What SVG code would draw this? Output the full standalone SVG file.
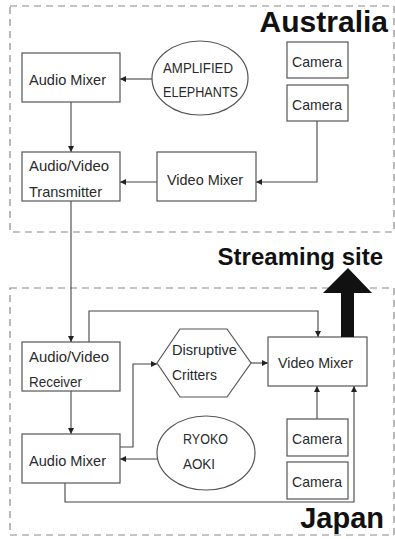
<svg xmlns="http://www.w3.org/2000/svg" width="395" height="539" viewBox="0 0 395 539">
  <style>
    .region { fill: none; stroke: #8a8a8a; stroke-width: 1.2; stroke-dasharray: 7 5; }
    .node { fill: #ffffff; stroke: #555555; stroke-width: 1.2; }
    .lbl { font-family: "Liberation Sans", Arial, sans-serif; font-size: 15px; fill: #2a2a2a; }
    .title { font-family: "Liberation Sans", Arial, sans-serif; font-weight: bold; fill: #111111; }
    .wire { fill: none; stroke: #444444; stroke-width: 1.1; }
  </style>
  <defs>
    <marker id="tip" viewBox="0 0 10 10" refX="10" refY="5" markerWidth="6" markerHeight="6" orient="auto" markerUnits="userSpaceOnUse">
      <path d="M0,0 L10,5 L0,10 Z" fill="#222222"/>
    </marker>
  </defs>

  <rect fill="#ffffff" x="0" y="0" width="395" height="539"/>

  <!-- regions -->
  <g id="australia">
    <rect class="region" x="10" y="6" width="384" height="226"/>
    <text class="title" x="388" y="32" font-size="30" text-anchor="end">Australia</text>
  </g>
  <g id="japan">
    <rect class="region" x="10" y="288" width="384" height="247"/>
    <text class="title" x="384" y="528" font-size="29" text-anchor="end">Japan</text>
  </g>

  <!-- connectors -->
  <g id="connectors">
    <path class="wire" d="M152,79 H120" marker-end="url(#tip)"/>
    <path class="wire" d="M71,102 V152" marker-end="url(#tip)"/>
    <path class="wire" d="M317,121 V182 H256" marker-end="url(#tip)"/>
    <path class="wire" d="M157,182 H120" marker-end="url(#tip)"/>
    <path class="wire" d="M71,201 V342" marker-end="url(#tip)"/>
    <path class="wire" d="M89,342 V311 H318 V337" marker-end="url(#tip)"/>
    <path class="wire" d="M71,391 V434" marker-end="url(#tip)"/>
    <path class="wire" d="M120,447 H133 V364 H157" marker-end="url(#tip)"/>
    <path class="wire" d="M251,363 H268" marker-end="url(#tip)"/>
    <path class="wire" d="M157,459 H120" marker-end="url(#tip)"/>
    <path class="wire" d="M317,419 V386" marker-end="url(#tip)"/>
    <path class="wire" d="M65,483 V502 H354 V386" marker-end="url(#tip)"/>
  </g>

  <!-- Australia nodes -->
  <g id="aus-audio-mixer">
    <rect class="node" x="22" y="53" width="98" height="49"/>
    <text class="lbl" x="29" y="85" textLength="77" lengthAdjust="spacingAndGlyphs">Audio Mixer</text>
  </g>
  <g id="amplified-elephants">
    <ellipse class="node" cx="200" cy="78" rx="48" ry="37"/>
    <text class="lbl" x="163" y="73" textLength="70" lengthAdjust="spacingAndGlyphs">AMPLIFIED</text>
    <text class="lbl" x="163" y="97" textLength="75" lengthAdjust="spacingAndGlyphs">ELEPHANTS</text>
  </g>
  <g id="aus-camera-1">
    <rect class="node" x="287" y="42" width="61" height="36"/>
    <text class="lbl" x="292" y="67" textLength="50" lengthAdjust="spacingAndGlyphs">Camera</text>
  </g>
  <g id="aus-camera-2">
    <rect class="node" x="287" y="85" width="61" height="36"/>
    <text class="lbl" x="292" y="110" textLength="50" lengthAdjust="spacingAndGlyphs">Camera</text>
  </g>
  <g id="av-transmitter">
    <rect class="node" x="22" y="152" width="98" height="49"/>
    <text class="lbl" x="29" y="171" textLength="80" lengthAdjust="spacingAndGlyphs">Audio/Video</text>
    <text class="lbl" x="29" y="197" textLength="73" lengthAdjust="spacingAndGlyphs">Transmitter</text>
  </g>
  <g id="aus-video-mixer">
    <rect class="node" x="157" y="152" width="99" height="49"/>
    <text class="lbl" x="167" y="185" textLength="76" lengthAdjust="spacingAndGlyphs">Video Mixer</text>
  </g>

  <!-- Japan nodes -->
  <g id="av-receiver">
    <rect class="node" x="22" y="342" width="98" height="49"/>
    <text class="lbl" x="29" y="362" textLength="80" lengthAdjust="spacingAndGlyphs">Audio/Video</text>
    <text class="lbl" x="29" y="387" textLength="53" lengthAdjust="spacingAndGlyphs">Receiver</text>
  </g>
  <g id="disruptive-critters">
    <polygon class="node" points="157,363 180,329 227,329 251,363 227,397 180,397"/>
    <text class="lbl" x="172" y="355" textLength="65" lengthAdjust="spacingAndGlyphs">Disruptive</text>
    <text class="lbl" x="172" y="380" textLength="45" lengthAdjust="spacingAndGlyphs">Critters</text>
  </g>
  <g id="jp-video-mixer">
    <rect class="node" x="268" y="337" width="99" height="49"/>
    <text class="lbl" x="278" y="368" textLength="75" lengthAdjust="spacingAndGlyphs">Video Mixer</text>
  </g>
  <g id="jp-audio-mixer">
    <rect class="node" x="22" y="434" width="98" height="49"/>
    <text class="lbl" x="29" y="466" textLength="77" lengthAdjust="spacingAndGlyphs">Audio Mixer</text>
  </g>
  <g id="ryoko-aoki">
    <ellipse class="node" cx="206" cy="453" rx="49" ry="37"/>
    <text class="lbl" x="183" y="444" textLength="45" lengthAdjust="spacingAndGlyphs">RYOKO</text>
    <text class="lbl" x="183" y="469" textLength="32" lengthAdjust="spacingAndGlyphs">AOKI</text>
  </g>
  <g id="jp-camera-1">
    <rect class="node" x="287" y="419" width="61" height="37"/>
    <text class="lbl" x="292" y="444" textLength="50" lengthAdjust="spacingAndGlyphs">Camera</text>
  </g>
  <g id="jp-camera-2">
    <rect class="node" x="287" y="462" width="61" height="37"/>
    <text class="lbl" x="292" y="487" textLength="50" lengthAdjust="spacingAndGlyphs">Camera</text>
  </g>

  <!-- output to the streaming site -->
  <g id="streaming-site">
    <polygon points="341,337 354,337 354,293 372,293 348,268 323,293 341,293" fill="#111111"/>
    <text class="title" x="383" y="265" font-size="24" text-anchor="end">Streaming site</text>
  </g>
</svg>
